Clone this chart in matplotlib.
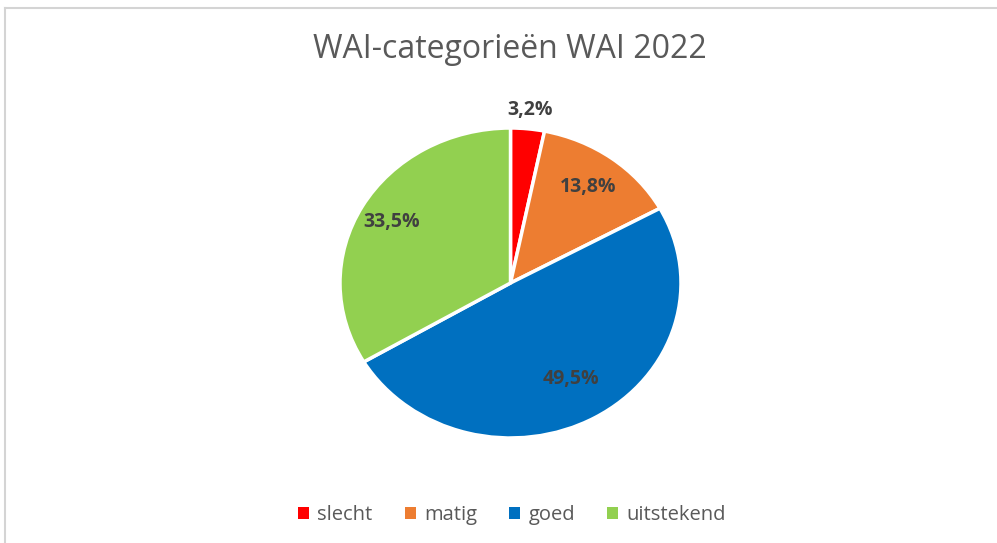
import matplotlib
matplotlib.use("Agg")
import matplotlib.pyplot as plt
from matplotlib.lines import Line2D
from matplotlib.patches import Patch
import numpy as np

categories = ["slecht", "matig", "goed", "uitstekend"]
shares = [3.2, 13.8, 49.5, 33.5]
colors = ["#FF0000", "#ED7D31", "#0070C0", "#92D050"]
title = "WAI-categorieën WAI 2022"

W, H = 997, 543
fig = plt.figure(figsize=(W / 100, H / 100), dpi=100)
fig.patch.set_facecolor("white")

# thin frame lines along the left and top edge
fig.add_artist(Line2D([5 / W, 5 / W], [0, 1 - 8 / H], transform=fig.transFigure,
                      color="#d4d4d4", lw=1.5))
fig.add_artist(Line2D([5 / W, 1], [1 - 8 / H, 1 - 8 / H], transform=fig.transFigure,
                      color="#d4d4d4", lw=1.5))

# pie area (slightly wider than tall)
left, right, top, bottom = 340, 681, 128, 438
ax = fig.add_axes([left / W, 1 - bottom / H, (right - left) / W, (bottom - top) / H])
wedges, _ = ax.pie(shares, colors=colors, startangle=90, counterclock=False,
                   radius=1.0, wedgeprops=dict(edgecolor="white", linewidth=2.5))
ax.set_xlim(-1, 1)
ax.set_ylim(-1, 1)
ax.set_aspect("auto")
ax.axis("off")

label_r = [1.12, 0.77, 0.71, 0.80]
cum = 0.0
total = sum(shares)
for val, r in zip(shares, label_r):
    mid = 90 - (cum + val / 2) / total * 360
    cum += val
    a = np.deg2rad(mid)
    ax.text(r * np.cos(a), r * np.sin(a), f"{val:.1f}%".replace(".", ","),
            ha="center", va="center", fontsize=14, fontweight="bold",
            color="#404040", family="Open Sans")

fig.text(510 / W, 1 - 49 / H, title, ha="center", va="center",
         fontsize=23, color="#595959", family="Open Sans")

handles = [Patch(facecolor=c, edgecolor="none") for c in colors]
fig.legend(handles, categories, loc="center", bbox_to_anchor=(512 / W, 1 - 515 / H),
           ncol=4, frameon=False, handlelength=0.55, handleheight=0.55,
           handletextpad=0.4, columnspacing=1.6,
           prop=dict(family="Open Sans", size=14.5), labelcolor="#595959")

fig.savefig("out.png", dpi=100, facecolor="white")
